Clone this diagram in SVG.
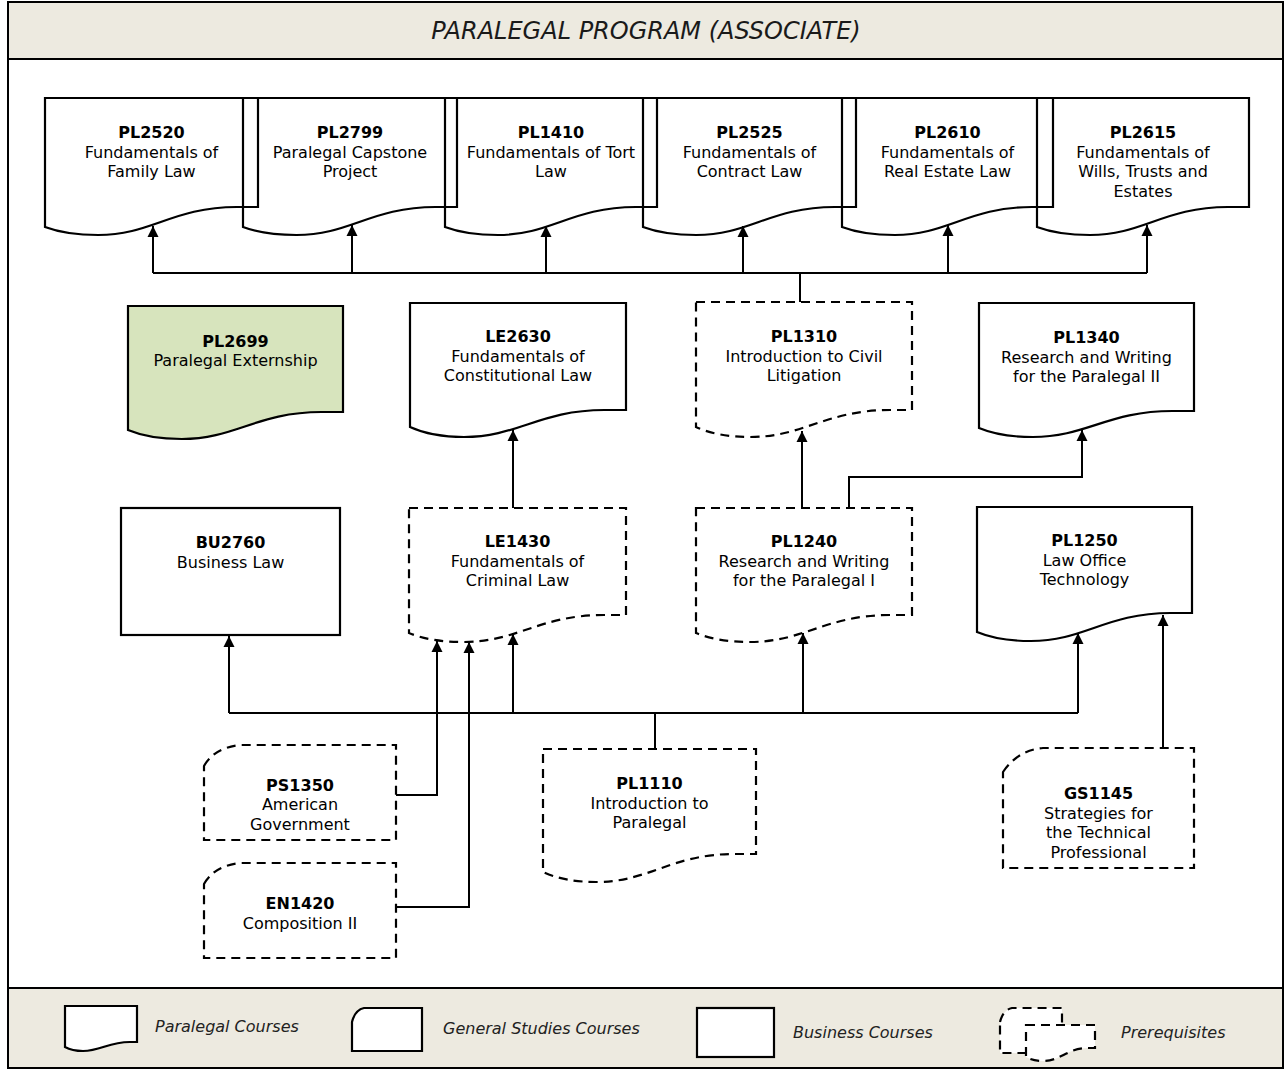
<svg xmlns="http://www.w3.org/2000/svg" width="1285" height="1069" viewBox="0 0 1285 1069">
<style>
.n{fill:#fff;stroke:#000;stroke-width:2.2;stroke-linejoin:miter}
.o{fill:none;stroke:#000;stroke-width:2.2}
.d{fill:#fff;stroke:#000;stroke-width:2.2;stroke-dasharray:9 6}
.g{fill:#D7E4BD;stroke:#000;stroke-width:2.2}
.c{fill:none;stroke:#000;stroke-width:2}
.a{marker-end:url(#arr)}
text{font-family:"DejaVu Sans",Verdana,sans-serif;font-size:16px;fill:#000;text-anchor:middle}
.b{font-weight:bold}
.lg{font-style:italic;font-size:16px;text-anchor:start;fill:#222}
.t{font-style:italic;font-size:24px;fill:#1a1a1a}
</style>
<defs>
<marker id="arr" markerUnits="userSpaceOnUse" markerWidth="12" markerHeight="12" viewBox="0 0 12 12" refX="11" refY="6" orient="auto">
<path d="M0,0.5 L11,6 L0,11.5 Z" fill="#000"/>
</marker>
</defs>
<rect x="0" y="0" width="1285" height="1069" fill="#fff"/>
<rect x="8" y="2" width="1275" height="1066" fill="#fff" stroke="#000" stroke-width="2"/>
<g id="header">
<rect x="8" y="2" width="1275" height="57" fill="#EDEAE0" stroke="#000" stroke-width="2"/>
<text class="t" x="646" y="39">PARALEGAL PROGRAM (ASSOCIATE)</text>
</g>
<g id="legend">
<rect x="8" y="988" width="1275" height="80" fill="#EDEAE0" stroke="#000" stroke-width="2"/>
<path class="n" d="M65,1006 H137 V1042 H129.8 C108.2,1042 101,1051 83,1051 Q72.2,1051 65,1047 Z"/>
<text class="lg" x="155" y="1032">Paralegal Courses</text>
<path class="n" d="M352,1022 Q355,1010 364,1008 H422 V1051 H352 Z"/>
<text class="lg" x="443" y="1034">General Studies Courses</text>
<rect class="n" x="697" y="1008" width="77" height="49"/>
<text class="lg" x="793" y="1038">Business Courses</text>
<path class="d" d="M1000,1022 Q1003,1010 1012,1008 H1062 V1053 H1000 Z"/>
<path class="d" d="M1026,1025 H1095 V1048 H1088.1 C1067.4,1048 1060.5,1061 1043.3,1061 Q1032.9,1061 1026,1057 Z"/>
<text class="lg" x="1121" y="1038">Prerequisites</text>
</g>
<g id="connectors">
<path class="c" d="M800,302 V273"/>
<path class="c" d="M153,273 H1147"/>
<path class="c a" d="M153,273 V226"/>
<path class="c a" d="M352,273 V225"/>
<path class="c a" d="M546,273 V226"/>
<path class="c a" d="M743,273 V226"/>
<path class="c a" d="M948,273 V225"/>
<path class="c a" d="M1147,273 V225"/>
<path class="c a" d="M513,508 V430"/>
<path class="c a" d="M802,508 V431"/>
<path class="c a" d="M849,508 V477 H1082 V430"/>
<path class="c" d="M655,749 V713"/>
<path class="c" d="M229,713 H1078"/>
<path class="c a" d="M229,713 V636"/>
<path class="c a" d="M513,713 V634"/>
<path class="c a" d="M803,713 V633"/>
<path class="c a" d="M1078,713 V633"/>
<path class="c a" d="M396,795 H437 V641"/>
<path class="c a" d="M396,907 H469 V642"/>
<path class="c a" d="M1163,748 V615"/>
</g>
<g id="PL2520">
<path class="o" d="M45,98 H258 V207 H236.7 C172.8,207 151.5,235 98.3,235 Q66.3,235 45,227 Z"/>
<text x="151.5" y="138" class="b">PL2520</text>
<text x="151.5" y="157.5">Fundamentals of</text>
<text x="151.5" y="177">Family Law</text>
</g>
<g id="PL2799">
<path class="o" d="M243,98 H457 V207 H435.6 C371.4,207 350,235 296.5,235 Q264.4,235 243,227 Z"/>
<text x="350" y="138" class="b">PL2799</text>
<text x="350" y="157.5">Paralegal Capstone</text>
<text x="350" y="177">Project</text>
</g>
<g id="PL1410">
<path class="o" d="M445,98 H657 V207 H635.8 C572.2,207 551,235 498,235 Q466.2,235 445,227 Z"/>
<text x="551" y="138" class="b">PL1410</text>
<text x="551" y="157.5">Fundamentals of Tort</text>
<text x="551" y="177">Law</text>
</g>
<g id="PL2525">
<path class="o" d="M643,98 H856 V207 H834.7 C770.8,207 749.5,235 696.3,235 Q664.3,235 643,227 Z"/>
<text x="749.5" y="138" class="b">PL2525</text>
<text x="749.5" y="157.5">Fundamentals of</text>
<text x="749.5" y="177">Contract Law</text>
</g>
<g id="PL2610">
<path class="o" d="M842,98 H1053 V207 H1031.9 C968.6,207 947.5,235 894.8,235 Q863.1,235 842,227 Z"/>
<text x="947.5" y="138" class="b">PL2610</text>
<text x="947.5" y="157.5">Fundamentals of</text>
<text x="947.5" y="177">Real Estate Law</text>
</g>
<g id="PL2615">
<path class="o" d="M1037,98 H1249 V207 H1227.8 C1164.2,207 1143,235 1090,235 Q1058.2,235 1037,227 Z"/>
<text x="1143" y="138" class="b">PL2615</text>
<text x="1143" y="157.5">Fundamentals of</text>
<text x="1143" y="177">Wills, Trusts and</text>
<text x="1143" y="196.5">Estates</text>
</g>
<g id="PL2699">
<path class="g" d="M128,306 H343 V412 H321.5 C257,412 235.5,439 181.8,439 Q149.5,439 128,430 Z"/>
<text x="235.5" y="347" class="b">PL2699</text>
<text x="235.5" y="366">Paralegal Externship</text>
</g>
<g id="LE2630">
<path class="n" d="M410,303 H626 V410 H604.4 C539.6,410 518,437 464,437 Q431.6,437 410,427 Z"/>
<text x="518" y="342" class="b">LE2630</text>
<text x="518" y="361.5">Fundamentals of</text>
<text x="518" y="381">Constitutional Law</text>
</g>
<g id="PL1310">
<path class="d" d="M696,302 H912 V410 H890.4 C825.6,410 804,437 750,437 Q717.6,437 696,427 Z"/>
<text x="804" y="342" class="b">PL1310</text>
<text x="804" y="361.5">Introduction to Civil</text>
<text x="804" y="381">Litigation</text>
</g>
<g id="PL1340">
<path class="n" d="M979,303 H1194 V411 H1172.5 C1108,411 1086.5,437 1032.8,437 Q1000.5,437 979,428 Z"/>
<text x="1086.5" y="343" class="b">PL1340</text>
<text x="1086.5" y="362.5">Research and Writing</text>
<text x="1086.5" y="382">for the Paralegal II</text>
</g>
<g id="BU2760">
<rect class="n" x="121" y="508" width="219" height="127"/>
<text x="230.5" y="548" class="b">BU2760</text>
<text x="230.5" y="567.5">Business Law</text>
</g>
<g id="LE1430">
<path class="d" d="M409,508 H626 V615 H604.3 C539.2,615 517.5,642 463.3,642 Q430.7,642 409,633 Z"/>
<text x="517.5" y="547" class="b">LE1430</text>
<text x="517.5" y="566.5">Fundamentals of</text>
<text x="517.5" y="586">Criminal Law</text>
</g>
<g id="PL1240">
<path class="d" d="M696,508 H912 V615 H890.4 C825.6,615 804,642 750,642 Q717.6,642 696,633 Z"/>
<text x="804" y="547" class="b">PL1240</text>
<text x="804" y="566.5">Research and Writing</text>
<text x="804" y="586">for the Paralegal I</text>
</g>
<g id="PL1250">
<path class="n" d="M977,507 H1192 V613 H1170.5 C1106,613 1084.5,641 1030.8,641 Q998.5,641 977,632 Z"/>
<text x="1084.5" y="546" class="b">PL1250</text>
<text x="1084.5" y="565.5">Law Office</text>
<text x="1084.5" y="585">Technology</text>
</g>
<g id="PS1350">
<path class="d" d="M204,766 Q214,748 240,745 H396 V840 H204 Z"/>
<text x="300" y="791" class="b">PS1350</text>
<text x="300" y="810">American</text>
<text x="300" y="830">Government</text>
</g>
<g id="EN1420">
<path class="d" d="M204,884 Q214,866 240,863 H396 V958 H204 Z"/>
<text x="300" y="909" class="b">EN1420</text>
<text x="300" y="928.5">Composition II</text>
</g>
<g id="PL1110">
<path class="d" d="M543,749 H756 V854 H734.7 C670.8,854 649.5,882 596.3,882 Q564.3,882 543,872 Z"/>
<text x="649.5" y="789" class="b">PL1110</text>
<text x="649.5" y="808.5">Introduction to</text>
<text x="649.5" y="828">Paralegal</text>
</g>
<g id="GS1145">
<path class="d" d="M1003,772 Q1018,750 1043,748 H1194 V868 H1003 Z"/>
<text x="1098.5" y="799" class="b">GS1145</text>
<text x="1098.5" y="818.5">Strategies for</text>
<text x="1098.5" y="838">the Technical</text>
<text x="1098.5" y="857.5">Professional</text>
</g>
</svg>
